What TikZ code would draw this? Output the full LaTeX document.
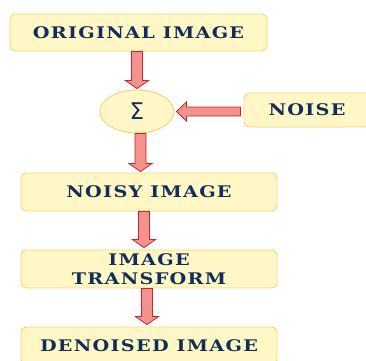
\documentclass[tikz,border=0pt]{standalone}
\usepackage{fontspec}
\usetikzlibrary{calc,shapes.geometric}
\newfontfamily\boxfont[LetterSpace=8,FakeStretch=1.2]{DejaVu Serif Bold}
\newfontfamily\sigmafont{DejaVu Sans}
\definecolor{boxfill}{HTML}{FFF8C6}
\definecolor{boxline}{HTML}{F7D26A}
\definecolor{arrfill}{HTML}{F4928C}
\definecolor{arrline}{HTML}{C3262E}
\definecolor{txt}{HTML}{112E5A}
\tikzset{
  box/.style={draw=boxline, fill=boxfill, line width=0.9pt, rounded corners=5pt,
    text=txt, font=\boxfont\fontsize{16}{19}\selectfont, align=center, inner sep=0pt},
  sumnode/.style={draw=boxline, fill=boxfill, line width=0.9pt, ellipse,
    minimum width=74pt, minimum height=43pt, inner sep=0pt, text=txt,
    font=\sigmafont\fontsize{23}{23}\selectfont},
  fat/.style={draw=arrline, fill=arrfill, line width=0.8pt, line join=miter}
}
\newcommand\fatdown[2]{%
  \path[fat] let \p1=(#1), \p2=(#2) in
    (\x1-5.5pt,\y1) -- (\x1-5.5pt,\y2+8pt) -- (\x1-11.5pt,\y2+8pt) -- (\x1,\y2)
    -- (\x1+11.5pt,\y2+8pt) -- (\x1+5.5pt,\y2+8pt) -- (\x1+5.5pt,\y1) -- cycle;}
\newcommand\fatleft[2]{%
  \path[fat] let \p1=(#1), \p2=(#2) in
    (\x1,\y1-4.5pt) -- (\x2+10pt,\y1-4.5pt) -- (\x2+10pt,\y1-9.5pt) -- (\x2,\y1)
    -- (\x2+10pt,\y1+9.5pt) -- (\x2+10pt,\y1+4.5pt) -- (\x1,\y1+4.5pt) -- cycle;}
\begin{document}
\begin{tikzpicture}[x=1pt,y=-1pt]
\useasboundingbox (0,0) rectangle (366,360);
\clip (0,0) rectangle (366,360);
\node[box, minimum width=257pt, minimum height=37pt] (orig) at (138.5,32.5) {ORIGINAL IMAGE};
\node[sumnode] (sum) at (137,111.5) {Σ};
\node[box, minimum width=126pt, minimum height=34pt] (noise) at (307,110) {NOISE};
\node[box, minimum width=256pt, minimum height=38pt] (noisy) at (149,192) {NOISY IMAGE};
\node[box, minimum width=256pt, minimum height=38pt] (trans) at (149,269) {IMAGE\\TRANSFORM};
\node[box, minimum width=256pt, minimum height=38pt] (denoised) at (149,346) {DENOISED IMAGE};
\fatdown{$(orig.south)+(-1.5,0)$}{$(sum.north)+(-1.5,-1)$}
\fatleft{$(noise.west)+(-3,1.5)$}{$(sum.east)+(2,1.5)$}
\fatdown{$(sum.south)+(3.5,0)$}{$(noisy.north)+(-8.5,-1)$}
\fatdown{$(noisy.south)+(-5,0)$}{$(trans.north)+(-5,-2)$}
\fatdown{$(trans.south)+(-2,0)$}{$(denoised.north)+(-2,-2)$}
\end{tikzpicture}
\end{document}
